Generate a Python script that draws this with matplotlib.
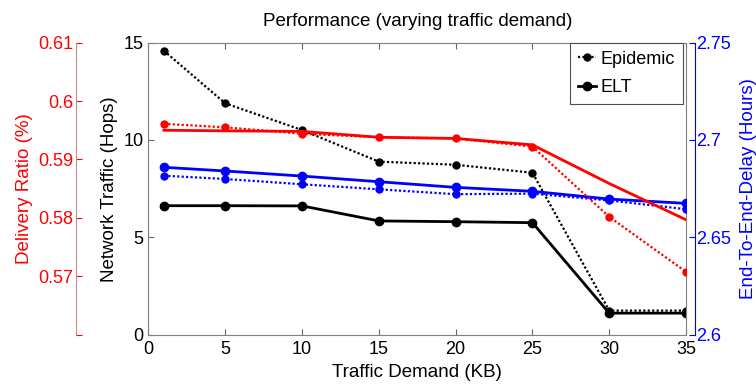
import matplotlib.pyplot as plt

plt.rcParams['font.family'] = ['Liberation Sans', 'DejaVu Sans']

# traffic demand (KB)
demand = [1, 5, 10, 15, 20, 25, 30, 35]

# network traffic (hops)
hops_epidemic = [14.58, 11.88, 10.51, 8.89, 8.73, 8.32, 1.25, 1.25]
hops_elt = [6.63, 6.63, 6.62, 5.85, 5.81, 5.76, 1.12, 1.12]

# delivery ratio
ratio_epidemic = [0.5961, 0.5955, 0.5944, 0.5938, 0.5936, 0.5922, 0.5802, 0.5708]
ratio_elt = [0.5950, 0.5949, 0.5948, 0.5938, 0.5936, 0.5925, 0.5859, 0.5797]

# end-to-end delay (hours)
delay_epidemic = [2.6817, 2.6800, 2.6773, 2.6747, 2.6722, 2.6725, 2.6690, 2.6645]
delay_elt = [2.6860, 2.6841, 2.6815, 2.6786, 2.6757, 2.6737, 2.6697, 2.6675]

fs_tick = 13
fs_label = 13.5
dotted = (0, (1, 1))

fig = plt.figure(figsize=(7.56, 3.85), dpi=100)
ax = fig.add_axes([0.1964, 0.1299, 0.711, 0.7597])
ax_delay = ax.twinx()
ax_ratio = ax.twinx()

# black: hops
ax.plot(demand, hops_epidemic, color='black', linestyle=dotted, linewidth=1.6,
        marker='.', markersize=10, label='Epidemic')
ax.plot(demand, hops_elt, color='black', linestyle='-', linewidth=2.0,
        marker='o', markersize=6, label='ELT')

# blue: delay
ax_delay.plot(demand, delay_epidemic, color='blue', linestyle=dotted, linewidth=1.6,
              marker='.', markersize=10)
ax_delay.plot(demand, delay_elt, color='blue', linestyle='-', linewidth=2.0,
              marker='o', markersize=6)

# red: delivery ratio
ax_ratio.plot(demand, ratio_epidemic, color='red', linestyle=dotted, linewidth=1.6,
              marker='.', markersize=10)
ax_ratio.plot(demand, ratio_elt, color='red', linestyle='-', linewidth=2.0)

ax.set_xlim(0, 35)
ax.set_ylim(0, 15)
ax.set_xticks([0, 5, 10, 15, 20, 25, 30, 35])
ax.set_yticks([0, 5, 10, 15])
ax.tick_params(direction='in', length=4, labelsize=fs_tick, top=True, right=False,
               color='0.4')
ax.tick_params(axis='x', pad=4)
for side in ['left', 'right', 'top', 'bottom']:
    ax.spines[side].set_color('0.5')
    ax.spines[side].set_linewidth(0.8)
ax.set_xlabel('Traffic Demand (KB)', fontsize=fs_label, labelpad=5)
ax.set_ylabel('Network Traffic (Hops)', fontsize=fs_label, labelpad=4)
ax.set_title('Performance (varying traffic demand)', fontsize=fs_label, pad=12)

ax_delay.set_ylim(2.6, 2.75)
ax_delay.set_yticks([2.6, 2.65, 2.7, 2.75])
ax_delay.set_yticklabels(['2.6', '2.65', '2.7', '2.75'])
ax_delay.spines['right'].set_position(('outward', 6.5))
ax_delay.spines['right'].set_color('blue')
ax_delay.spines['right'].set_linewidth(0.8)
for side in ['left', 'top', 'bottom']:
    ax_delay.spines[side].set_visible(False)
ax_delay.tick_params(direction='in', length=4, labelsize=fs_tick, colors='blue', pad=1)
ax_delay.set_ylabel('End-To-End-Delay (Hours)', fontsize=fs_label, color='blue',
                    labelpad=6)

ax_ratio.set_ylim(0.56, 0.61)
ax_ratio.set_yticks([0.56, 0.57, 0.58, 0.59, 0.6, 0.61])
ax_ratio.set_yticklabels(['', '0.57', '0.58', '0.59', '0.6', '0.61'])
ax_ratio.spines['left'].set_position(('outward', 52))
ax_ratio.spines['left'].set_visible(True)
ax_ratio.spines['left'].set_color('#c09090')
ax_ratio.spines['left'].set_linewidth(0.8)
for side in ['right', 'top', 'bottom']:
    ax_ratio.spines[side].set_visible(False)
ax_ratio.yaxis.set_ticks_position('left')
ax_ratio.yaxis.set_label_position('left')
ax_ratio.tick_params(direction='in', length=4, labelsize=fs_tick, colors='red',
                     left=True, right=False, pad=2)
ax_ratio.set_ylabel('Delivery Ratio (%)', fontsize=fs_label, color='red', labelpad=4)

leg = ax.legend(loc='upper right', bbox_to_anchor=(0.9953, 1.0), borderaxespad=0,
                fontsize=13, fancybox=False, framealpha=1, edgecolor='0.3',
                handlelength=1.0, handletextpad=0.25, borderpad=0.45,
                labelspacing=0.65)
leg.get_frame().set_linewidth(0.8)
leg.set_zorder(10)

plt.savefig('out.png', dpi=100)
